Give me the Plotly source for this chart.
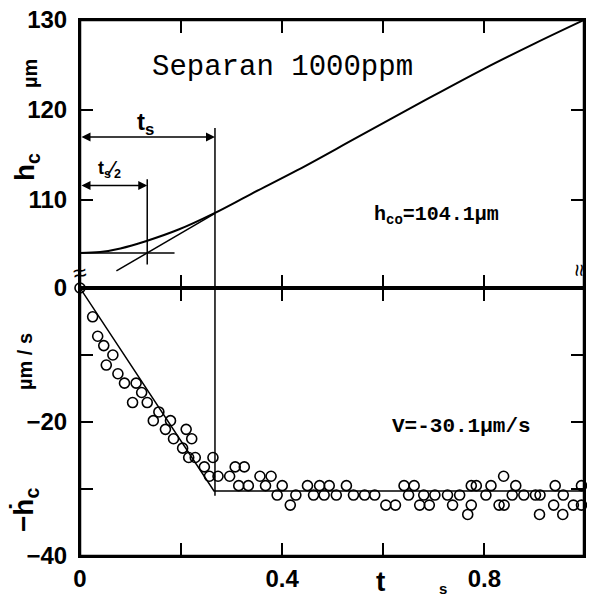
import plotly.graph_objects as go

# ---------------- data ----------------
# top panel: film thickness h_c (µm) vs time t (s)
curve_t = [0.0, 0.04, 0.08, 0.13, 0.195, 0.265, 0.34, 0.43, 0.55, 0.68, 0.80, 0.90, 0.997]
curve_h = [104.1, 104.2, 104.6, 105.4, 106.7, 108.5, 110.7, 113.3, 117.0, 121.0, 124.6, 127.4, 130.0]

tangent_t = [0.072, 0.267]
tangent_h = [102.1, 108.5]

base_t = [0.0, 0.187]
base_h = [104.1, 104.1]

ts_line_t = [0.267, 0.267]
ts_line_h = [118.0, 100.2]
ts2_line_t = [0.133, 0.133]
ts2_line_h = [112.3, 102.8]

ts_arrow = dict(x0=0.0, x1=0.267, h=117.0)
ts2_arrow = dict(x0=0.0, x1=0.133, h=111.6)

# bottom panel: -dh_c/dt (µm/s) vs t (s)
pts_t = [0.0, 0.025, 0.035, 0.047, 0.052, 0.065, 0.075, 0.088, 0.104, 0.111,
         0.122, 0.133, 0.145, 0.156, 0.169, 0.179, 0.185, 0.203, 0.210, 0.215,
         0.221, 0.228, 0.246, 0.256, 0.263, 0.273, 0.296, 0.307, 0.314, 0.325,
         0.333, 0.356, 0.367, 0.378, 0.390, 0.400, 0.416, 0.427, 0.450, 0.462,
         0.474, 0.483, 0.493, 0.507, 0.527, 0.541, 0.563, 0.583, 0.605, 0.624,
         0.641, 0.650, 0.661, 0.672, 0.680, 0.691, 0.702, 0.727, 0.737, 0.751,
         0.767, 0.774, 0.774, 0.784, 0.803, 0.813, 0.838, 0.829, 0.839, 0.855,
         0.862, 0.878, 0.901, 0.910, 0.909, 0.937, 0.940, 0.955, 0.956, 0.976,
         0.992, 0.992]
pts_v = [0.0, -4.3, -7.2, -8.6, -11.5, -10.0, -12.8, -14.2, -17.1, -14.2,
         -15.6, -17.1, -19.8, -18.5, -21.1, -19.8, -22.5, -23.9, -21.1, -25.3,
         -22.5, -25.3, -26.7, -28.1, -25.3, -28.1, -28.1, -26.7, -29.5, -26.7,
         -29.5, -28.1, -29.5, -28.1, -30.9, -29.5, -32.4, -30.9, -29.5, -30.9,
         -29.5, -30.9, -29.5, -30.9, -29.5, -30.9, -30.9, -30.9, -32.4, -32.4,
         -29.5, -30.9, -29.5, -32.4, -30.9, -32.4, -30.9, -30.9, -32.4, -30.9,
         -33.8, -32.4, -29.5, -29.5, -30.9, -29.5, -28.1, -32.4, -32.4, -30.9,
         -29.5, -30.9, -30.9, -30.9, -33.8, -32.4, -29.5, -33.8, -30.9, -32.4,
         -29.5, -32.4]

fit_t = [0.0, 0.265, 0.997]
fit_v = [0.0, -30.3, -30.3]

ts_low_t = [0.267, 0.267]
ts_low_v = [0.0, -31.0]

x_ticks = [0.0, 0.4, 0.8]
x_ticklabels = ["0", "0.4", "0.8"]
x_minor = [0.2, 0.6]
top_ticks = [110, 120, 130]
top_ticklabels = ["110", "120", "130"]
bot_ticks = [-40, -20, 0]
bot_ticklabels = ["\u221240", "\u221220", "0"]
bot_minor = [-30, -10]

# ---------------- figure ----------------
BLK = "black"
fig = go.Figure()

line = dict(color=BLK, width=1.5)
fig.add_trace(go.Scatter(x=curve_t, y=curve_h, mode="lines", line=dict(color=BLK, width=2, shape="spline"),
                         xaxis="x2", yaxis="y2"))
fig.add_trace(go.Scatter(x=tangent_t, y=tangent_h, mode="lines", line=line, xaxis="x2", yaxis="y2"))
fig.add_trace(go.Scatter(x=base_t, y=base_h, mode="lines", line=line, xaxis="x2", yaxis="y2"))
fig.add_trace(go.Scatter(x=ts_line_t, y=ts_line_h, mode="lines", line=line, xaxis="x2", yaxis="y2"))
fig.add_trace(go.Scatter(x=ts2_line_t, y=ts2_line_h, mode="lines", line=line, xaxis="x2", yaxis="y2"))

fig.add_trace(go.Scatter(x=fit_t, y=fit_v, mode="lines", line=line, xaxis="x", yaxis="y"))
fig.add_trace(go.Scatter(x=ts_low_t, y=ts_low_v, mode="lines", line=line, xaxis="x", yaxis="y"))
fig.add_trace(go.Scatter(x=pts_t, y=pts_v, mode="markers",
                         marker=dict(symbol="circle-open", size=10, color=BLK, line=dict(width=1.6, color=BLK)),
                         xaxis="x", yaxis="y", cliponaxis=False))

tickfont = dict(family="Liberation Sans", size=24, color=BLK, weight="bold")
common_axis = dict(showline=True, linewidth=2, linecolor=BLK, ticks="inside", ticklen=13,
                   tickwidth=2, tickcolor=BLK, showgrid=False, zeroline=False, mirror="ticks",
                   automargin=False, ticklabeloverflow="allow")
minor_style = dict(ticks="inside", ticklen=13, tickwidth=2, tickcolor=BLK, showgrid=False)

# The page body adds an 8px offset; the figure is sized so that the page does not
# overflow the 595x604 window (no scrollbars) and the plot area sits at x 80..584, y 20..556.
FIG_W, FIG_H = 579, 588
M_L, M_R, M_T, M_B = 72, 3, 12, 40
PLOT_W = FIG_W - M_L - M_R
PLOT_H = FIG_H - M_T - M_B
OFF = 8

x_range = [0, 0.997]
fig.update_layout(
    template="none",
    width=FIG_W, height=FIG_H,
    margin=dict(l=M_L, r=M_R, t=M_T, b=M_B, pad=0),
    paper_bgcolor="white", plot_bgcolor="white",
    showlegend=False,
    xaxis=dict(**common_axis, domain=[0, 1], range=x_range, anchor="y",
               tickvals=x_ticks, ticktext=x_ticklabels, tickfont=tickfont, ticklabelstandoff=0,
               minor=dict(tickvals=x_minor, **minor_style)),
    xaxis2=dict(**common_axis, domain=[0, 1], range=x_range, anchor="y2", matches="x",
                tickvals=x_ticks, showticklabels=False,
                minor=dict(tickvals=x_minor, **minor_style)),
    yaxis=dict(**common_axis, domain=[0, 0.5], range=[-40, 0], anchor="x",
               tickvals=bot_ticks, ticktext=bot_ticklabels, tickfont=tickfont, ticklabelstandoff=6,
               minor=dict(tickvals=bot_minor, **minor_style)),
    yaxis2=dict(**common_axis, domain=[0.5, 1], range=[100.2, 130], anchor="x2",
                tickvals=top_ticks, ticktext=top_ticklabels, tickfont=tickfont, ticklabelstandoff=6),
)

# frame of both panels
fig.add_shape(type="rect", xref="paper", yref="paper", x0=0, x1=1, y0=0, y1=1,
              line=dict(color=BLK, width=2.5), layer="above")
fig.add_shape(type="line", xref="paper", yref="paper", x0=0, x1=1, y0=0.5, y1=0.5,
              line=dict(color=BLK, width=2.5), layer="above")

ann = []
mono = "Liberation Mono"
sans = "Liberation Sans"

def txt(text, x, y, xref, yref, size, family=sans, weight="normal", angle=0):
    ann.append(dict(text=text, x=x, y=y, xref=xref, yref=yref, showarrow=False,
                    font=dict(family=family, size=size, color=BLK, weight=weight),
                    textangle=angle, xanchor="center", yanchor="middle"))

# arrows (double headed)
for a in (ts_arrow, ts2_arrow):
    ann.append(dict(x=a["x1"], y=a["h"], ax=a["x0"], ay=a["h"], xref="x2", yref="y2",
                    axref="x2", ayref="y2", text="", showarrow=True, arrowhead=2,
                    arrowside="end+start", arrowsize=1.2, arrowwidth=1.5, arrowcolor=BLK,
                    standoff=0, startstandoff=0))

txt("t<sub>s</sub>", 0.13, 118.5, "x2", "y2", 24, weight="bold")
txt("t<sub>s</sub>\u2044<sub>2</sub>", 0.058, 113.4, "x2", "y2", 18, weight="bold")
txt("Separan 1000ppm", 0.40, 124.7, "x2", "y2", 29, family=mono)
txt("h<sub>co</sub>=104.1\u00b5m", 0.705, 108.3, "x2", "y2", 20, family=mono, weight="bold")
txt("V=-30.1\u00b5m/s", 0.755, -20.6, "x", "y", 21, family=mono, weight="bold")

# convert window pixel coordinates to paper fraction of the plot area
def plotx(px):
    return (px - OFF - M_L) / PLOT_W
def ploty(py):
    return (FIG_H - M_B + OFF - py) / PLOT_H

def ptxt2(text, px, py, size, angle=0, weight="bold"):
    ann.append(dict(text=text, x=plotx(px), y=ploty(py), xref="paper", yref="paper",
                    showarrow=False, textangle=angle, xanchor="center", yanchor="middle",
                    font=dict(family=sans, size=size, color=BLK, weight=weight)))

ptxt2("\u00b5m", 30, 74, 20, angle=-90)
ptxt2("h<sub>c</sub>", 26, 167, 28, angle=-90)
ptxt2("\u00b5m / s", 25, 362, 20, angle=-90)
ptxt2("\u2212\u1e23<sub>c</sub>", 25, 510, 28, angle=-90)
ptxt2("t", 380, 581, 28)
ptxt2("s", 443, 588, 15)
ptxt2("≈", 79, 272, 24, angle=-10, weight="normal")
ptxt2("≈", 580, 270, 22, angle=90, weight="normal")

fig.update_layout(annotations=ann)
fig.write_html("out.html")
